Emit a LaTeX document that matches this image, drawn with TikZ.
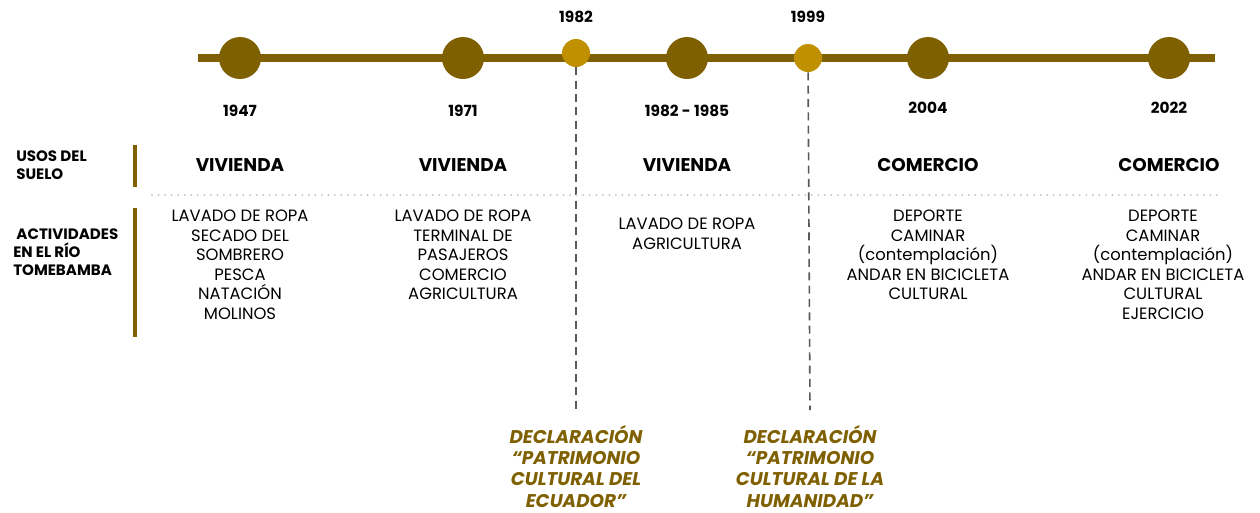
\documentclass[tikz,border=0pt]{standalone}
\usepackage{fontspec}
\setmainfont{Poppins}
\definecolor{barro}{HTML}{7F6000}
\definecolor{oro}{HTML}{BF9000}
\definecolor{guion}{HTML}{595959}
\definecolor{punto}{HTML}{BFBFBF}
\begin{document}
\begin{tikzpicture}[x=0.75pt, y=-0.75pt,
    hito/.style={circle, fill=barro, minimum size=31.5pt, inner sep=0},
    hitoclave/.style={circle, fill=oro, minimum size=21pt, inner sep=0},
    anio/.style={font=\fontsize{11.5}{13}\selectfont\bfseries, inner sep=0},
    uso/.style={font=\fontsize{13.8}{17}\selectfont\bfseries, inner sep=0},
    lista/.style={font=\fontsize{12.3}{14.6}\selectfont, align=center, anchor=north, inner sep=0},
    rotulo/.style={font=\fontsize{11.3}{13.5}\selectfont\bfseries, align=left, anchor=west, inner sep=0},
    declara/.style={font=\fontsize{13.8}{16}\selectfont\bfseries\itshape, text=barro, align=center, anchor=north, inner sep=0}]
    \useasboundingbox (0,0) rectangle (1260,512);
    % linea de tiempo
    \coordinate (ini) at (198,58);
    \coordinate (fin) at (1215,58);
    \draw[barro, line width=6pt] (ini) -- (fin);
    \node[hito] (h47) at (240,58) {};
    \node[hito] (h71) at (463,58) {};
    \node[hito] (h82) at (687,58) {};
    \node[hito] (h04) at (928,58) {};
    \node[hito] (h22) at (1169,58) {};
    \node[hitoclave] (c82) at (576,53) {};
    \node[hitoclave] (c99) at (808,58) {};
    % guias de las declaraciones
    \coordinate (f82) at (576,410);
    \coordinate (f99) at (810,410);
    \draw[guion, line width=1.2pt, dash pattern=on 6pt off 4pt] (c82) -- (f82);
    \draw[guion, line width=1.2pt, dash pattern=on 6pt off 4pt] (c99) -- (f99);
    % anios
    \node[anio] (a82) at (576,17) {1982};
    \node[anio] (a99) at (808,17) {1999};
    \node[anio] (a47) at (240,111) {1947};
    \node[anio] (a71) at (463,111) {1971};
    \node[anio] (a85) at (687,111) {1982 - 1985};
    \node[anio] (a04) at (928,108) {2004};
    \node[anio] (a22) at (1169,108) {2022};
    % filas
    \node[rotulo] (usos) at (16,165) {USOS DEL\\SUELO};
    \node[rotulo] (activ) at (13,252) {\ ACTIVIDADES\\EN EL RÍO\\TOMEBAMBA};
    \draw[barro, line width=3pt] (135,145) -- (135,187);
    \draw[barro, line width=3pt] (135,208) -- (135,337);
    \draw[punto, line width=1.5pt, line cap=round, dash pattern=on 0pt off 4.9pt] (152,195) -- (1222,195);
    \node[uso] (u1) at (240,165) {VIVIENDA};
    \node[uso] (u2) at (463,165) {VIVIENDA};
    \node[uso] (u3) at (687,165) {VIVIENDA};
    \node[uso] (u4) at (928,165) {COMERCIO};
    \node[uso] (u5) at (1169,165) {COMERCIO};
    \node[lista] (l1) at (240,210) {LAVADO DE ROPA\\SECADO DEL\\SOMBRERO\\PESCA\\NATACIÓN\\MOLINOS};
    \node[lista] (l2) at (463,210) {LAVADO DE ROPA\\TERMINAL DE\\PASAJEROS\\COMERCIO\\AGRICULTURA};
    \node[lista] (l3) at (687,218) {LAVADO DE ROPA\\AGRICULTURA};
    \node[lista] (l4) at (928,210) {DEPORTE\\CAMINAR\\(contemplación)\\ANDAR EN BICICLETA\\CULTURAL};
    \node[lista] (l5) at (1163,210) {DEPORTE\\CAMINAR\\(contemplación)\\ANDAR EN BICICLETA\\CULTURAL\\EJERCICIO};
    % declaraciones
    \node[declara] (d82) at (576,425) {DECLARACIÓN\\“PATRIMONIO\\CULTURAL DEL\\ECUADOR”};
    \node[declara] (d99) at (810,425) {DECLARACIÓN\\“PATRIMONIO\\CULTURAL DE LA\\HUMANIDAD”};
\end{tikzpicture}
\end{document}
